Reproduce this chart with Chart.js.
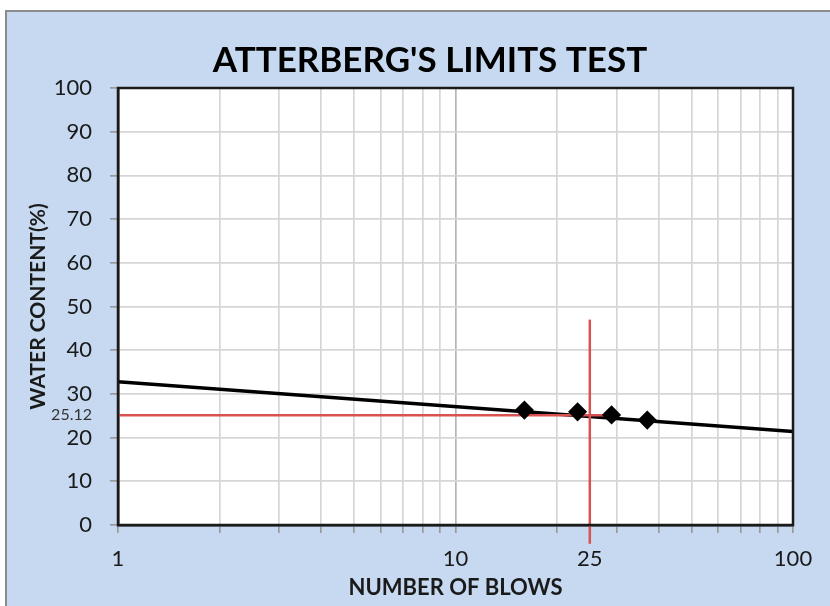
<!DOCTYPE html>
<html>
<head>
<meta charset="utf-8">
<script src="https://cdn.jsdelivr.net/npm/chart.js@4"></script>
<style>
  body { margin: 0; background: #ffffff; }
  #fond {
    position: absolute; left: 5px; top: 10px; width: 840px; height: 610px;
    background: #c6d9f0; border-left: 2px solid #8c8c8c; border-top: 2px solid #8c8c8c;
  }
  #graphique-limites { position: absolute; left: 0; top: 0; }
</style>
</head>
<body>
<div id="fond"></div>
<canvas id="graphique-limites" width="830" height="606"></canvas>
<script>
// Valeurs
const nbCoups = [16, 23, 29, 37];
const teneurEau = [26.3, 25.9, 25.2, 24.0];

// Droite de tendance (extrémités)
const tendanceCoups = [1, 100];
const tendanceEau = [32.8, 21.4];

// Limite de liquidité à 25 coups
const limiteLiquidite = 25.12;
const repereHorizX = [1, 28.5];
const repereVertY = [-4.3, 47];
const coupsRef = 25;

// Graduations
const grilleX = [1, 2, 3, 4, 5, 6, 7, 8, 9, 10, 20, 30, 40, 50, 60, 70, 80, 90, 100];
const etiquettesX = [1, 10, 25, 100];
const etiquettesY = [0, 10, 20, 30, 40, 50, 60, 70, 80, 90, 100];

const titre = "ATTERBERG'S LIMITS TEST";
const police = "Lato, 'Open Sans', sans-serif";

// Fond blanc de la zone de tracé, cadre noir et titre (décalé vers la droite comme dans Excel)
const cadre = {
    id: "cadre",
    beforeDraw(chart){
        const a = chart.chartArea;
        const ctx = chart.ctx;
        ctx.save();
        ctx.fillStyle = "#ffffff";
        ctx.fillRect(a.left, a.top, a.right - a.left, a.bottom - a.top);
        ctx.restore();
    },
    afterDraw(chart){
        const a = chart.chartArea;
        const ctx = chart.ctx;
        ctx.save();
        ctx.strokeStyle = "#1a1a1a";
        ctx.lineWidth = 2.5;
        ctx.strokeRect(a.left, a.top, a.right - a.left, a.bottom - a.top);

        ctx.fillStyle = "#000000";
        ctx.font = "bold 35px " + police;
        ctx.textAlign = "center";
        ctx.textBaseline = "middle";
        ctx.fillText(titre, 430, 61);
        ctx.restore();
    }
};

const data = {
    datasets: [
        {
            type: "line",
            data: tendanceCoups.map((x, i) => ({x: x, y: tendanceEau[i]})),
            borderColor: "#000000",
            borderWidth: 3.5,
            pointRadius: 0,
            order: 3
        },
        {
            type: "line",
            data: repereHorizX.map(x => ({x: x, y: limiteLiquidite})),
            borderColor: "#d85252",
            borderWidth: 2.5,
            pointRadius: 0,
            order: 2
        },
        {
            type: "line",
            data: repereVertY.map(y => ({x: coupsRef, y: y})),
            borderColor: "#d85252",
            borderWidth: 2.5,
            pointRadius: 0,
            clip: false,
            order: 2
        },
        {
            type: "scatter",
            data: nbCoups.map((x, i) => ({x: x, y: teneurEau[i]})),
            pointStyle: "rectRot",
            pointRadius: 8.5,
            backgroundColor: "#000000",
            borderColor: "#000000",
            borderWidth: 1.5,
            order: 1
        }
    ]
};

const config = {
    type: "scatter",
    data: data,
    plugins: [cadre],
    options: {
        responsive: false,
        animation: false,
        layout: { padding: { left: 20, right: 37, top: 88, bottom: 0 } },
        plugins: {
            legend: { display: false },
            tooltip: { enabled: false },
            title: { display: false }
        },
        scales: {
            x: {
                type: "logarithmic",
                min: 1,
                max: 100,
                afterBuildTicks(scale){
                    scale.ticks = grilleX.concat([coupsRef]).map(v => ({value: v}));
                },
                afterFit(scale){ scale.height = 81; },
                ticks: {
                    autoSkip: false,
                    maxRotation: 0,
                    padding: 13,
                    color: "#1a1a1a",
                    font: { family: police, size: 22 },
                    callback: v => etiquettesX.includes(v) ? String(v) : ""
                },
                grid: {
                    color: c => c.tick && c.tick.value === coupsRef ? "rgba(0,0,0,0)" :
                                (c.tick && c.tick.value === 10 ? "#b5b5b5" : "#d6d6d6"),
                    tickColor: c => c.tick && c.tick.value === coupsRef ? "rgba(0,0,0,0)" : "#9a9a9a",
                    lineWidth: 1.7,
                    tickLength: 8
                },
                border: { display: true, color: "#1a1a1a", width: 2.5 },
                title: {
                    display: true,
                    text: "NUMBER OF BLOWS",
                    color: "#1a1a1a",
                    font: { family: police, size: 22, weight: "bold", lineHeight: 1.2 },
                    padding: { top: 0, bottom: 5 }
                }
            },
            y: {
                min: 0,
                max: 100,
                afterBuildTicks(scale){
                    scale.ticks = etiquettesY.concat([limiteLiquidite]).map(v => ({value: v}));
                },
                afterFit(scale){ scale.width = 98; },
                ticks: {
                    autoSkip: false,
                    padding: 18,
                    color: c => c.tick && c.tick.value === limiteLiquidite ? "#333333" : "#1a1a1a",
                    font: c => c.tick && c.tick.value === limiteLiquidite ?
                        { family: police, size: 16 } : { family: police, size: 22 },
                    callback: v => String(v)
                },
                grid: {
                    color: c => c.tick && c.tick.value === limiteLiquidite ? "rgba(0,0,0,0)" : "#d6d6d6",
                    tickColor: c => c.tick && c.tick.value === limiteLiquidite ? "rgba(0,0,0,0)" : "#9a9a9a",
                    lineWidth: 1.7,
                    tickLength: 8
                },
                border: { display: true, color: "#1a1a1a", width: 2.5 },
                title: {
                    display: true,
                    text: "WATER CONTENT(%)",
                    color: "#1a1a1a",
                    font: { family: police, size: 21, weight: "bold", lineHeight: 1.2 },
                    padding: { top: 6, bottom: 0 }
                }
            }
        }
    }
};

const graphiqueLimites = new Chart(
    document.querySelector("#graphique-limites"),
    config
);
</script>
</body>
</html>
